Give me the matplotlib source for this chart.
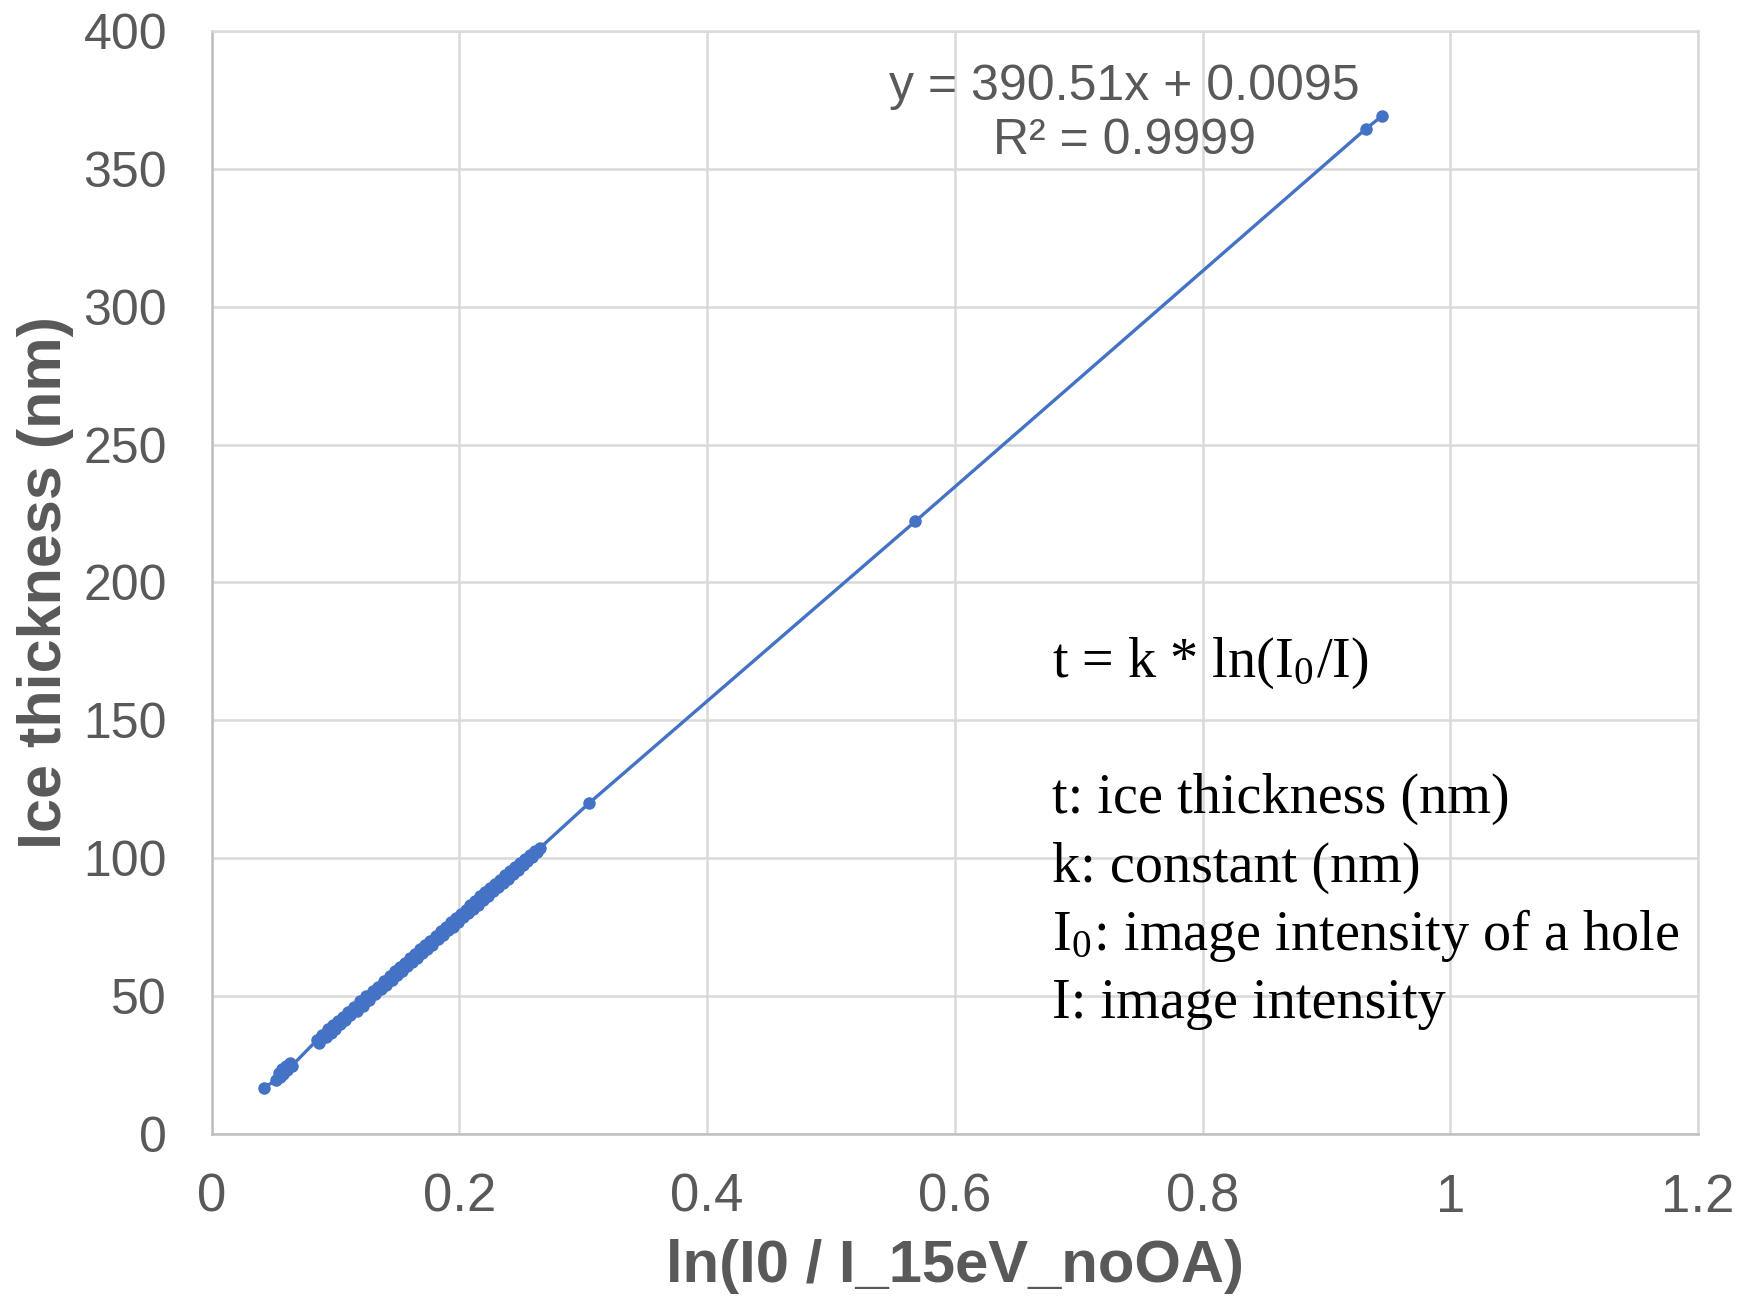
import matplotlib
matplotlib.use("Agg")
import matplotlib.pyplot as plt

# Measured ice thickness against log intensity ratio (15 eV slit, no objective aperture)
log_ratio = [0.042, 0.052, 0.054, 0.055, 0.057, 0.058, 0.060, 0.061, 0.063, 0.065,
             0.085, 0.087, 0.089, 0.092, 0.094, 0.096, 0.098, 0.100, 0.102, 0.104,
             0.106, 0.108, 0.110, 0.112, 0.115, 0.117, 0.120, 0.122, 0.125, 0.127,
             0.130, 0.132, 0.134, 0.137, 0.139, 0.141, 0.144, 0.146, 0.148, 0.150,
             0.152, 0.154, 0.156, 0.158, 0.160, 0.162, 0.164, 0.166, 0.168, 0.170,
             0.172, 0.174, 0.176, 0.178, 0.181, 0.183, 0.185, 0.187, 0.189, 0.191,
             0.193, 0.195, 0.197, 0.199, 0.201, 0.203, 0.205, 0.207, 0.209, 0.211,
             0.213, 0.215, 0.217, 0.219, 0.221, 0.223, 0.225, 0.227, 0.229, 0.231,
             0.233, 0.235, 0.237, 0.239, 0.241, 0.243, 0.245, 0.247, 0.249, 0.251,
             0.253, 0.255, 0.257, 0.259, 0.261, 0.263, 0.265,
             0.305, 0.568, 0.932, 0.945]
thickness = [16.6, 19.4, 22.0, 20.6, 23.4, 21.7, 24.5, 23.0, 25.6, 24.7,
             33.9, 32.7, 35.6, 35.0, 37.8, 36.6, 39.4, 37.9, 40.8, 39.8,
             42.2, 41.3, 44.1, 42.9, 46.0, 44.6, 48.1, 46.4, 50.0, 48.4,
             51.8, 50.5, 53.3, 52.4, 55.3, 54.0, 57.2, 55.6, 58.9, 57.4,
             60.3, 59.0, 62.0, 60.7, 63.6, 62.1, 65.3, 63.7, 66.9, 65.4,
             68.3, 67.1, 69.9, 68.6, 71.8, 70.6, 73.6, 72.1, 74.9, 73.8,
             76.6, 75.1, 78.2, 76.8, 79.7, 78.5, 81.3, 79.9, 82.9, 81.6,
             84.3, 83.0, 86.1, 84.6, 87.6, 86.3, 89.0, 87.9, 90.6, 89.3,
             92.1, 90.9, 93.8, 92.5, 95.2, 94.1, 96.8, 95.6, 98.1, 97.3,
             99.6, 98.9, 101.2, 100.3, 102.6, 102.0, 103.6,
             120.0, 222.1, 364.6, 369.2]

fit_text = ["y = 390.51x + 0.0095", "R² = 0.9999"]
x_ticks = [0, 0.2, 0.4, 0.6, 0.8, 1.0, 1.2]
x_tick_labels = ["0", "0.2", "0.4", "0.6", "0.8", "1", "1.2"]
y_ticks = [0, 50, 100, 150, 200, 250, 300, 350, 400]

note_lines = [
    r"t = k * ln(I$_\mathregular{0}$/I)",
    "t: ice thickness (nm)",
    "k: constant (nm)",
    r"I$_\mathregular{0}$: image intensity of a hole",
    "I: image intensity",
]
note_y = [170.5, 121.6, 96.5, 72.0, 47.2]

BLUE = "#4472C4"
GRAY = "#595959"
GRID = "#D9D9D9"

plt.rcParams["font.family"] = ["Liberation Sans", "DejaVu Sans"]
plt.rcParams["mathtext.fontset"] = "stix"

fig = plt.figure(figsize=(17.46, 12.96), dpi=100)
ax = fig.add_axes([0.1212, 0.1253, 0.9725 - 0.1212, 0.976 - 0.1253])

ax.plot(log_ratio, thickness, color=BLUE, linewidth=2.4, marker="o",
        markersize=9, markeredgewidth=0, zorder=3)

ax.set_xlim(0, 1.2)
ax.set_ylim(0, 400)
ax.set_xticks(x_ticks)
ax.set_xticklabels(x_tick_labels)
ax.set_yticks(y_ticks)
ax.grid(True, color=GRID, linewidth=1.8)
ax.set_axisbelow(True)
for side in ["top", "right"]:
    ax.spines[side].set_color(GRID)
    ax.spines[side].set_linewidth(1.8)
for side in ["left", "bottom"]:
    ax.spines[side].set_color("#BFBFBF")
    ax.spines[side].set_linewidth(1.8)

ax.tick_params(axis="both", length=0, colors=GRAY)
ax.tick_params(axis="x", labelsize=38, pad=28)
ax.tick_params(axis="y", labelsize=36, pad=32)

ax.set_xlabel("ln(I0 / I_15eV_noOA)", fontsize=43, fontweight="bold",
              color=GRAY, labelpad=12)
ax.set_ylabel("Ice thickness (nm)", fontsize=44, fontweight="bold",
              color=GRAY, labelpad=7)

ax.text(0.737, 379.8, fit_text[0], fontsize=36, color=GRAY,
        ha="center", va="center")
ax.text(0.737, 360.0, fit_text[1], fontsize=36, color=GRAY,
        ha="center", va="center")

for line, yv in zip(note_lines, note_y):
    ax.text(0.6787, yv, line, fontsize=40.5, color="black", ha="left",
            va="center", family="Liberation Serif")

fig.savefig("out.png", dpi=100)
